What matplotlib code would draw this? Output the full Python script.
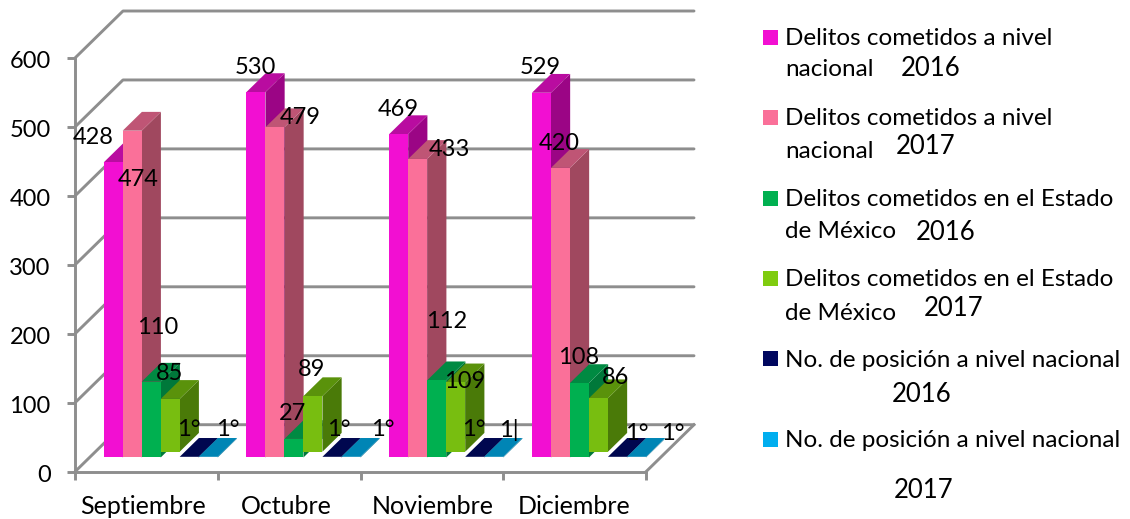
import matplotlib
matplotlib.use("Agg")
import matplotlib.pyplot as plt
from matplotlib.patches import Polygon, Rectangle
from matplotlib.transforms import ScaledTranslation

categories = ["Septiembre", "Octubre", "Noviembre", "Diciembre"]
nacional_2016 = [428, 530, 469, 529]
nacional_2017 = [474, 479, 433, 420]
edomex_2016 = [110, 27, 112, 108]
edomex_2017 = [85, 89, 109, 86]
posicion_2016 = [1, 1, 1, 1]
posicion_2017 = [1, 1, 1, 1]
label_texts = [
    ["428", "530", "469", "529"],
    ["474", "479", "433", "420"],
    ["110", "27", "112", "108"],
    ["85", "89", "109", "86"],
    ["1°", "1°", "1°", "1°"],
    ["1°", "1°", "1|", "1°"],
]
yticks = [0, 100, 200, 300, 400, 500, 600]

series = [nacional_2016, nacional_2017, edomex_2016, edomex_2017, posicion_2016, posicion_2017]
front = ["#F20FD2", "#FA7099", "#00B050", "#78BE10", "#00074F", "#0085B5"]
side = ["#9B0585", "#A0485F", "#00783A", "#4A7A08", "#00063A", "#006A90"]
top = ["#B90CA0", "#BF5575", "#008A42", "#5A920B", "#00074F", "#0085B5"]
legend_colors = ["#F20FD2", "#FA7099", "#00B050", "#7FCC0F", "#00075F", "#00AEEF"]

W, H = 1130, 519
plt.rcParams["font.family"] = ["Lato", "DejaVu Sans"]
fig = plt.figure(figsize=(W / 100, H / 100), dpi=100)
X0, X1, Y0, Y600 = 75, 646, 471.7, 58
ax = fig.add_axes([X0 / W, 1 - Y0 / H, (X1 - X0) / W, (Y0 - Y600) / H])
ax.patch.set_alpha(0)
ax.set_xlim(0, 4)
ax.set_ylim(0, 600)
GRAY = "#8E8E8E"
LW = 2.1
PX_X = (X1 - X0) / 4
PX_Y = (Y0 - Y600) / 600
WALL_X, WALL_Y = 48 / PX_X, 47 / PX_Y


def proj(x, y, d):
    return x + d * WALL_X, y + d * WALL_Y


# walls
for v in yticks:
    a, b, c = (0, v), proj(0, v, 1), proj(4, v, 1)
    ax.plot([a[0], b[0], c[0]], [a[1], b[1], c[1]], color=GRAY, lw=LW,
            clip_on=False, zorder=1, solid_capstyle="round")
f = proj(4, 0, 1)
ax.plot([4, f[0]], [0, f[1]], color=GRAY, lw=LW, clip_on=False, zorder=1)

# bars
BW = 19 / PX_X
GAP = 14.2 / PX_X
D0, D1 = 14.2 / 47, 33 / 47
LIME_RAISE = 5.8 / PX_Y
for c in range(len(categories)):
    for s, vals in enumerate(series):
        v = vals[c]
        x, base = proj(c + GAP + s * BW, 0, D0)
        top_y = base + v
        low = base + LIME_RAISE if s == 3 else base
        xb, yb = x + (D1 - D0) * WALL_X, (D1 - D0) * WALL_Y
        ax.add_patch(Polygon([(x + BW, low), (xb + BW, low + yb), (xb + BW, top_y + yb), (x + BW, top_y)],
                             closed=True, fc=side[s], ec="none", zorder=3, clip_on=False))
        ax.add_patch(Polygon([(x, top_y), (x + BW, top_y), (xb + BW, top_y + yb), (xb, top_y + yb)],
                             closed=True, fc=top[s], ec="none", zorder=3, clip_on=False))
        ax.add_patch(Rectangle((x, low), BW, top_y - low, fc=front[s], ec="none", zorder=3, clip_on=False))

# axes furniture
for k in ("top", "right"):
    ax.spines[k].set_visible(False)
for k in ("left", "bottom"):
    ax.spines[k].set_color(GRAY)
    ax.spines[k].set_linewidth(LW)
    ax.spines[k].set_zorder(2)
ax.set_yticks(yticks)
ax.set_xticks(range(5))
ax.set_xticklabels([])
ax.set_xticks([i + 0.5 for i in range(4)], minor=True)
ax.set_xticklabels(categories, minor=True)
ax.tick_params(axis="x", which="major", length=5.5, width=LW, color=GRAY)
ax.tick_params(axis="x", which="minor", length=0, pad=16.5, labelsize=18)
ax.tick_params(axis="y", length=5.5, width=LW, color=GRAY, pad=12, labelsize=17)
for lab, dx in zip(ax.get_xticklabels(minor=True), [-3, -3, 1, 0]):
    lab.set_transform(lab.get_transform() + ScaledTranslation(dx / 100, 0, fig.dpi_scale_trans))
for lab in ax.get_yticklabels():
    lab.set_transform(lab.get_transform() + ScaledTranslation(0, -1.5 / 100, fig.dpi_scale_trans))


def px(x, y):
    return x / W, 1 - y / H


# data labels
label_pos = [
    [(93, 137), (255, 67), (398, 109), (540, 68)],
    [(138, 179), (300, 117), (449, 149), (559, 143)],
    [(158, 328), (293, 413), (447, 321), (579, 357)],
    [(170, 373), (312, 370), (465, 381), (616, 378)],
    [(189, 430), (339, 430), (474, 430), (637, 433)],
    [(228, 430), (383, 430), (509, 430), (673, 433)],
]
for s, row in enumerate(label_pos):
    for c, (x, y) in enumerate(row):
        fig.text(*px(x, y), label_texts[s][c], fontsize=17, ha="center", va="center", color="black", zorder=10)

# legend
legend_lines = [
    ("Delitos cometidos a nivel", "nacional", "2016"),
    ("Delitos cometidos a nivel", "nacional", "2017"),
    ("Delitos cometidos en el Estado", "de México", "2016"),
    ("Delitos cometidos en el Estado", "de México", "2017"),
    ("No. de posición a nivel nacional", None, "2016"),
    ("No. de posición a nivel nacional", None, "2017"),
]
sw_y = [30, 110, 191, 271, 351, 432]
l1_y = [38.5, 118.5, 199.5, 279.5, 360.5, 440.5]
l2_y = [70, 151, 231, 313, None, None]
yr_pos = [(901, 69), (896, 147), (916, 232), (924, 308), (892, 395), (894, 490)]
for i, (a, b, yr) in enumerate(legend_lines):
    fig.add_artist(Rectangle(px(763, sw_y[i] + 15), 15 / W, 15 / H, transform=fig.transFigure,
                             fc=legend_colors[i], ec="none"))
    fig.text(*px(785, l1_y[i]), a, fontsize=17.5, va="center", ha="left")
    if b:
        fig.text(*px(785, l2_y[i]), b, fontsize=17.5, va="center", ha="left")
    fig.text(*px(*yr_pos[i]), yr, fontsize=18.5, va="center", ha="left")

fig.savefig("out.png", dpi=100)
